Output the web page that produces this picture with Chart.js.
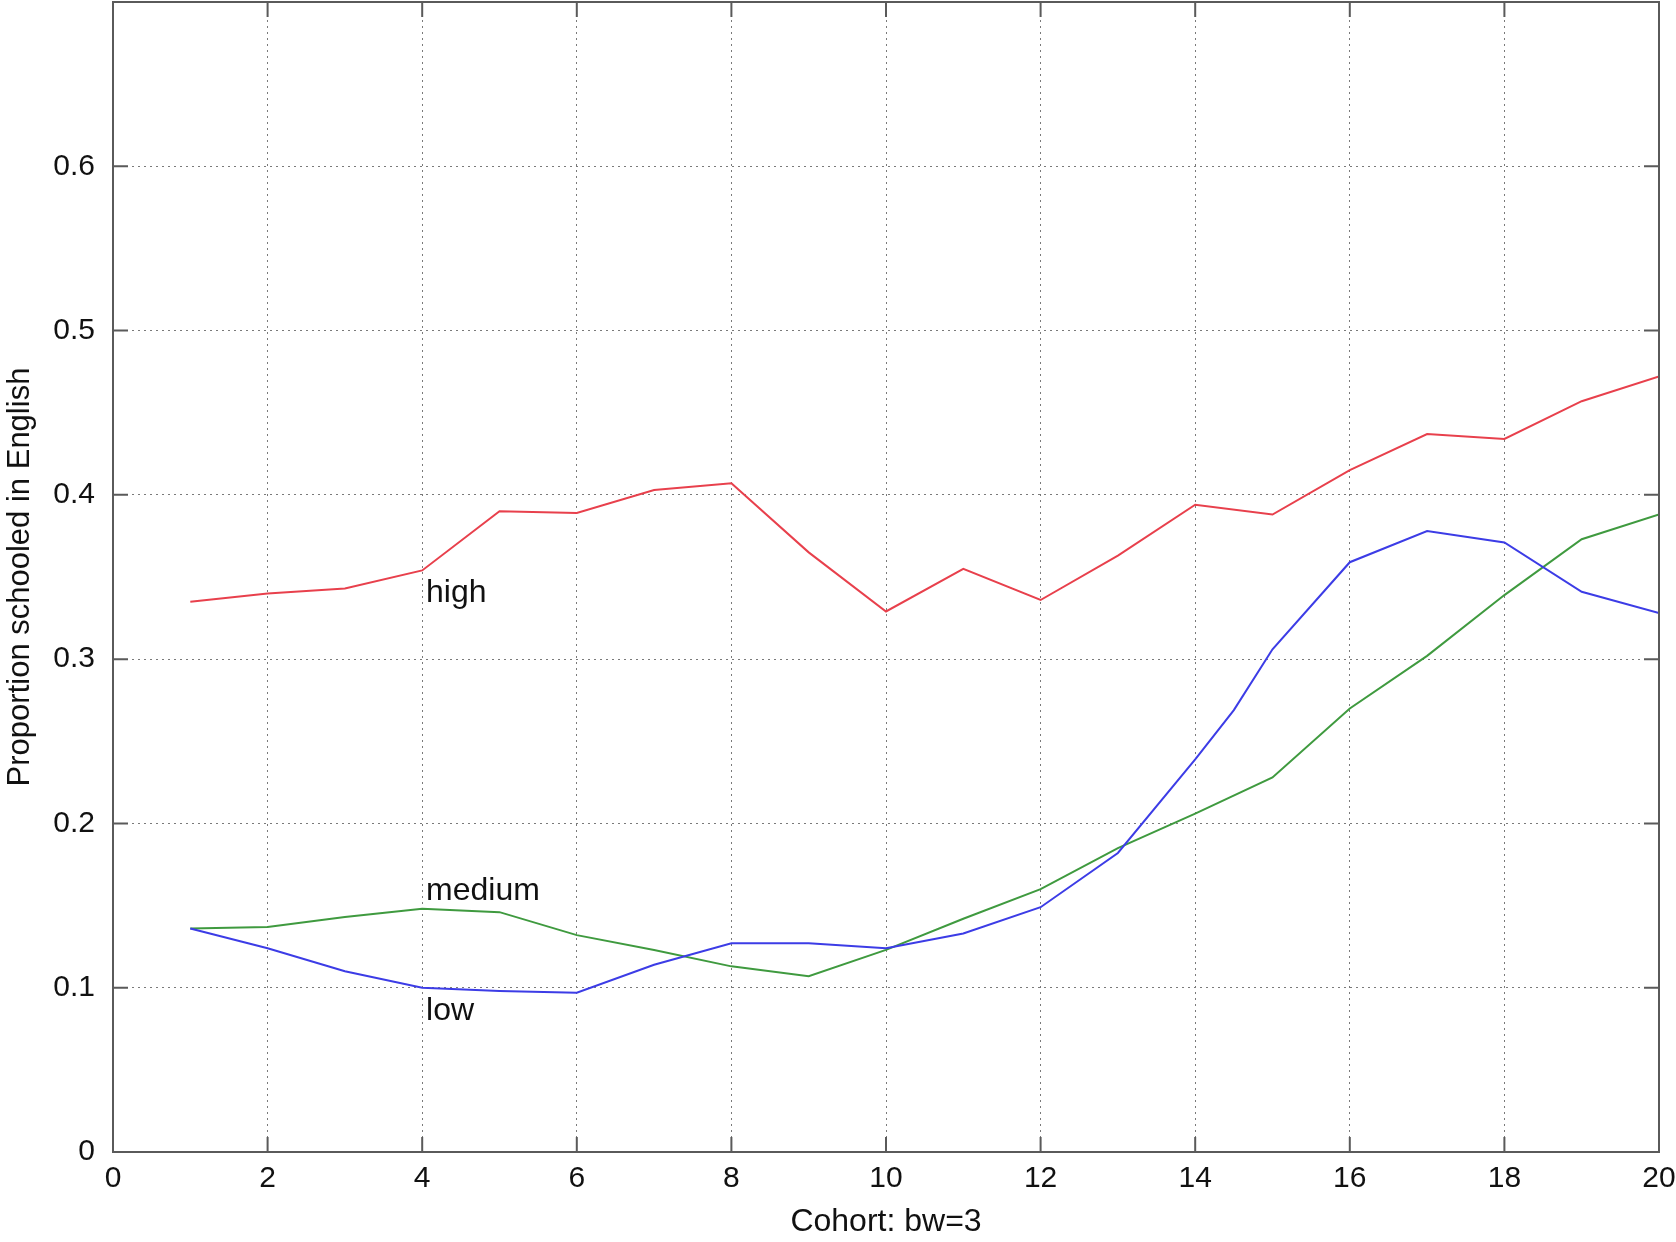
<!DOCTYPE html>
<html>
<head>
<meta charset="utf-8">
<title>Proportion schooled in English</title>
<script src="https://cdn.jsdelivr.net/npm/chart.js@4.4.1/dist/chart.umd.min.js"></script>
<style>
  html, body { margin: 0; padding: 0; background: #fff; }
  #wrap { width: 1676px; height: 1242px; position: relative; }
</style>
</head>
<body>
<div id="wrap"><canvas id="chart"></canvas></div>
<script>
// ── Data ─────────────────────────────────────────────────────
const cohorts    = [1, 2, 3, 4, 5, 6, 7, 8, 9, 10, 11, 12, 13, 14, 15, 16, 17, 18, 19, 20];
const highVals   = [0.335, 0.340, 0.343, 0.354, 0.390, 0.389, 0.403, 0.407, 0.365, 0.329,
                    0.355, 0.336, 0.363, 0.394, 0.388, 0.415, 0.437, 0.434, 0.457, 0.472];
const mediumVals = [0.136, 0.137, 0.143, 0.148, 0.146, 0.132, 0.123, 0.113, 0.107, 0.123,
                    0.142, 0.160, 0.185, 0.206, 0.228, 0.270, 0.302, 0.339, 0.373, 0.388];
const lowCohorts = [1, 2, 3, 4, 5, 6, 7, 8, 9, 10, 11, 12, 13, 14, 14.5, 15, 16, 17, 18, 19, 20];
const lowVals    = [0.136, 0.124, 0.110, 0.100, 0.098, 0.097, 0.114, 0.127, 0.127, 0.124,
                    0.133, 0.149, 0.182, 0.239, 0.269, 0.306, 0.359, 0.378, 0.371, 0.341, 0.328];

const xTicks = [0, 2, 4, 6, 8, 10, 12, 14, 16, 18, 20];
const yTicks = [0, 0.1, 0.2, 0.3, 0.4, 0.5, 0.6];

// in-plot labels: [text, cohort, value]
const seriesLabels = [
  ['high',   4.05, 0.340],
  ['medium', 4.05, 0.159],
  ['low',    4.05, 0.086],
];

const FONT = '"Liberation Sans", Arial, sans-serif';
const pts = (xs, ys) => xs.map((x, i) => ({ x, y: ys[i] }));

// ── Frame, inward ticks and series labels ────────────────────
const framePlugin = {
  id: 'frame',
  afterDraw(chart) {
    const { ctx, chartArea: a, scales: { x, y } } = chart;
    ctx.save();
    ctx.strokeStyle = '#5a5a5a';
    ctx.lineWidth = 2;
    ctx.strokeRect(a.left, a.top, a.right - a.left, a.bottom - a.top);

    ctx.beginPath();
    const len = 15;
    xTicks.forEach(v => {
      const px = x.getPixelForValue(v);
      ctx.moveTo(px, a.bottom); ctx.lineTo(px, a.bottom - len);
      ctx.moveTo(px, a.top);    ctx.lineTo(px, a.top + len);
    });
    yTicks.forEach(v => {
      const py = y.getPixelForValue(v);
      ctx.moveTo(a.left, py);  ctx.lineTo(a.left + len, py);
      ctx.moveTo(a.right, py); ctx.lineTo(a.right - len, py);
    });
    ctx.stroke();

    ctx.fillStyle = '#111';
    ctx.font = '32px ' + FONT;
    ctx.textAlign = 'left';
    ctx.textBaseline = 'middle';
    seriesLabels.forEach(([t, cx, cy]) => {
      ctx.fillText(t, x.getPixelForValue(cx), y.getPixelForValue(cy));
    });
    ctx.restore();
  },
};

const line = (data, color) => ({
  data, borderColor: color, borderWidth: 2, pointRadius: 0, tension: 0, fill: false,
});

new Chart(document.getElementById('chart'), {
  type: 'line',
  data: {
    datasets: [
      line(pts(cohorts, highVals),      '#e8404c'),
      line(pts(lowCohorts, lowVals),    '#3c3ce6'),
      line(pts(cohorts, mediumVals),    '#3f9a3f'),
    ],
  },
  options: {
    responsive: true,
    maintainAspectRatio: false,
    animation: false,
    devicePixelRatio: 1,
    layout: { padding: { top: 2, right: 17, left: 0, bottom: 0 } },
    plugins: { legend: { display: false }, tooltip: { enabled: false } },
    scales: {
      x: {
        type: 'linear', min: 0, max: 20,
        afterBuildTicks: s => { s.ticks = xTicks.map(v => ({ value: v })); },
        afterFit: s => { s.height = 90; s.paddingLeft = 0; s.paddingRight = 0; },
        ticks: { color: '#111', font: { family: FONT, size: 30 }, padding: 9, maxRotation: 0 },
        grid: { color: '#7a7a7a', lineWidth: 1, drawTicks: false },
        border: { display: true, color: '#5a5a5a', width: 2, dash: [2, 4] },
        title: { display: true, text: 'Cohort: bw=3', color: '#111',
                 font: { family: FONT, size: 32 }, padding: { top: 0, bottom: 1 } },
      },
      y: {
        type: 'linear', min: 0, max: 0.7,
        afterBuildTicks: s => { s.ticks = yTicks.map(v => ({ value: v })); },
        afterFit: s => { s.width = 113; s.paddingTop = 0; s.paddingBottom = 0; },
        ticks: { color: '#111', font: { family: FONT, size: 30 }, padding: 18 },
        grid: { color: '#7a7a7a', lineWidth: 1, drawTicks: false },
        border: { display: true, color: '#5a5a5a', width: 2, dash: [2, 4] },
        title: { display: true, text: 'Proportion schooled in English', color: '#111',
                 font: { family: FONT, size: 31 }, padding: { top: 2, bottom: 0 } },
      },
    },
  },
  plugins: [framePlugin],
});
</script>
</body>
</html>
